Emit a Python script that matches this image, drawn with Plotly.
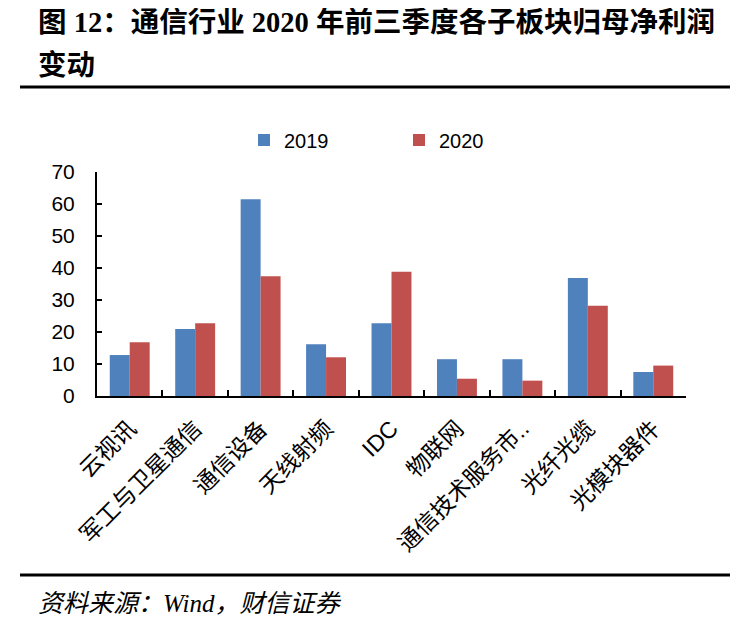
import plotly.graph_objects as go

categories = ["云视讯", "军工与卫星通信", "通信设备", "天线射频", "IDC", "物联网",
              "通信技术服务市..", "光纤光缆", "光模块器件"]
values_2019 = [12.8, 20.9, 61.5, 16.2, 22.7, 11.5, 11.5, 36.9, 7.5]
values_2020 = [16.8, 22.7, 37.4, 12.1, 38.8, 5.4, 4.8, 28.2, 9.5]
y_ticks = [0, 10, 20, 30, 40, 50, 60, 70]

OFF = 8  # page body margin
W, H = 750 - OFF, 625 - OFF
L, T = 97 - OFF, 172 - OFF
PW, PH = 686 - 97, 396 - 172
R, B = W - L - PW, H - T - PH

def px(x):
    return (x - 97) / PW

def py(y):
    return (396 - y) / PH

fig = go.Figure()
fig.add_trace(go.Bar(name="2019", x=categories, y=values_2019, marker_color="#4F81BD",
                     marker_line_width=0))
fig.add_trace(go.Bar(name="2020", x=categories, y=values_2020, marker_color="#C0504D",
                     marker_line_width=0))

tick_font = dict(family="Liberation Sans, Arial, Noto Sans CJK SC", size=21, color="#000")
fig.update_layout(
    width=W, height=H,
    margin=dict(l=L, r=R, t=T, b=B, pad=0, autoexpand=False),
    paper_bgcolor="white", plot_bgcolor="white",
    barmode="group", bargap=0.39, bargroupgap=0,
    showlegend=True,
    legend=dict(orientation="h", x=px(244), y=py(140), xanchor="left", yanchor="middle",
                entrywidth=110, entrywidthmode="pixels", itemwidth=30,
                font=dict(family="Liberation Sans, Arial", size=20, color="#000"),
                bgcolor="rgba(0,0,0,0)"),
    xaxis=dict(showline=True, linecolor="#000", linewidth=2, ticks="inside", ticklen=6,
               tickwidth=2, tickcolor="#000", tickson="boundaries", tickangle=-45,
               automargin=False, ticklabelstandoff=8,
               tickfont=dict(family="Liberation Sans, Arial, Noto Sans CJK SC", size=23, color="#000"),
               showgrid=False, mirror=False),
    yaxis=dict(range=[0, 70], tickvals=y_ticks, showline=True, linecolor="#000", linewidth=2,
               ticks="inside", ticklen=5, tickwidth=2, tickcolor="#000", showgrid=False,
               automargin=False,
               zeroline=False, tickfont=tick_font, ticklabelstandoff=16),
)

title_font = dict(family="Liberation Serif, Noto Sans CJK SC", size=28.5, color="#000", weight="bold")
fig.add_annotation(text="图 12：通信行业 2020 年前三季度各子板块归母净利润", x=px(36), y=py(22),
                   xref="paper", yref="paper", xanchor="left", yanchor="middle",
                   showarrow=False, font=title_font)
fig.add_annotation(text="变动", x=px(36), y=py(65),
                   xref="paper", yref="paper", xanchor="left", yanchor="middle",
                   showarrow=False, font=title_font)
fig.add_annotation(text="<i>资料来源：Wind，财信证券</i>", x=px(36), y=py(603),
                   xref="paper", yref="paper", xanchor="left", yanchor="middle",
                   showarrow=False,
                   font=dict(family="Liberation Serif, Noto Sans CJK SC", size=25, color="#000"))
for yy in (87, 575):
    fig.add_shape(type="line", xref="paper", yref="paper", x0=px(20), x1=px(730),
                  y0=py(yy), y1=py(yy), line=dict(color="#000", width=3))

fig.write_html("out.html")
